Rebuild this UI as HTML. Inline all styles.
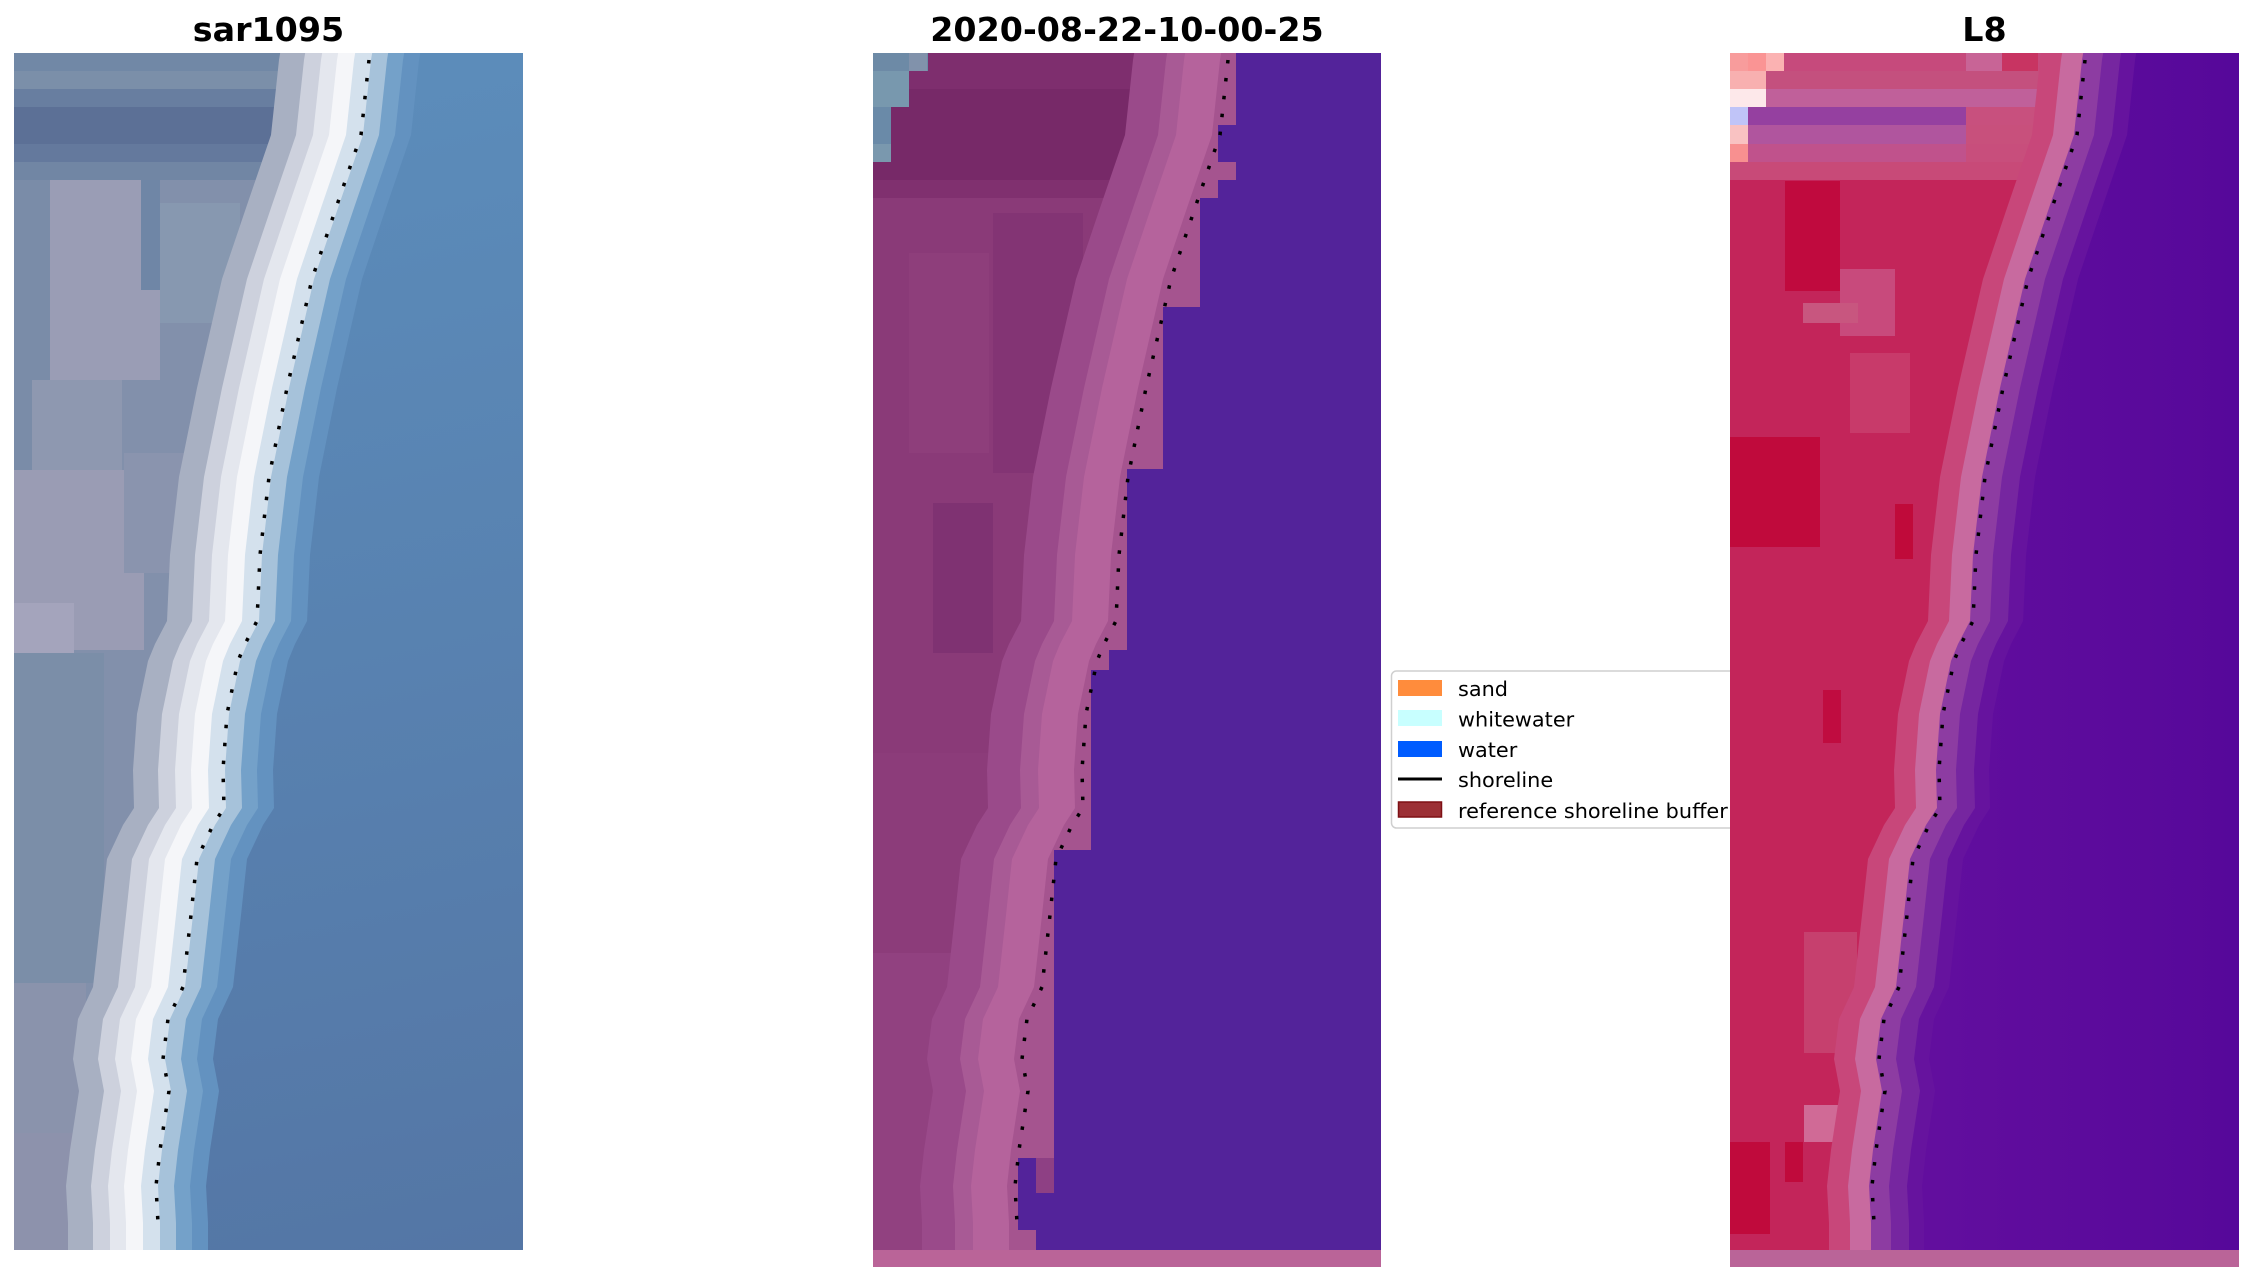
<!DOCTYPE html>
<html><head><meta charset="utf-8"><style>
html,body{margin:0;padding:0;background:#fff;}
svg{display:block;}
text{font-family:"DejaVu Sans","Liberation Sans",sans-serif;}
</style></head><body>
<svg width="2253" height="1283" viewBox="0 0 2253 1283" xmlns="http://www.w3.org/2000/svg">
<defs>
<path id="sh" d="M357,-5 L355,7 L347,82 L323,152 L298,226 L273,335 L255,424 L246,502 L243,568 L231,591 L224,608 L213,661 L209,717 L210,755 L199,772 L183,806 L177,862 L169,934 L154,966 L149,1006 L155,1038 L146,1097 L142,1133 L144,1170 L144,1230 L900,1230 L900,-5 Z"/>
<polyline id="dots" points="355,7 347,82 323,152 298,226 273,335 255,424 246,502 243,568 231,591 224,608 213,661 209,717 210,755 199,772 183,806 177,862 169,934 154,966 149,1006 155,1038 146,1097 142,1133 144,1170" fill="none" stroke="#000" stroke-width="3.5" stroke-dasharray="3.5 14.5"/>
<clipPath id="c1"><rect x="0" y="0" width="509" height="1197"/></clipPath>
<clipPath id="c2"><rect x="0" y="0" width="508" height="1214"/></clipPath>
<clipPath id="c3"><rect x="0" y="0" width="509" height="1214"/></clipPath>
<linearGradient id="w1" gradientUnits="userSpaceOnUse" x1="200" y1="0" x2="460" y2="1197"><stop offset="0" stop-color="#5c8dbb"/><stop offset="1" stop-color="#5476a5"/></linearGradient>
<linearGradient id="w3" gradientUnits="userSpaceOnUse" x1="150" y1="0" x2="460" y2="0"><stop offset="0" stop-color="#620e9e"/><stop offset="1" stop-color="#56089a"/></linearGradient>
</defs>
<rect width="2253" height="1283" fill="#fff"/>

<!-- Titles -->
<text x="268.5" y="41" font-size="33.3" font-weight="bold" text-anchor="middle">sar1095</text>
<text x="1127" y="41" font-size="33.3" font-weight="bold" text-anchor="middle">2020-08-22-10-00-25</text>
<text x="1984.5" y="41" font-size="33.3" font-weight="bold" text-anchor="middle">L8</text>

<!-- Panel 1 -->
<g transform="translate(14,53)" clip-path="url(#c1)">
<rect x="0" y="0" width="509" height="1197" fill="#8290ab"/>
<rect x="0" y="0" width="290" height="18" fill="#7188a6"/>
<rect x="0" y="18" width="290" height="18" fill="#7b8fa9"/>
<rect x="0" y="36" width="272" height="18" fill="#687ea0"/>
<rect x="0" y="54" width="272" height="37" fill="#5c7096"/>
<rect x="0" y="91" width="260" height="18" fill="#64799d"/>
<rect x="0" y="109" width="250" height="18" fill="#7186a4"/>
<rect x="0" y="127" width="36" height="330" fill="#7a8ca8"/>
<rect x="36" y="127" width="110" height="200" fill="#9a9db5"/>
<rect x="127" y="127" width="19" height="110" fill="#6f86a6"/>
<rect x="146" y="150" width="80" height="120" fill="#8798b0"/>
<rect x="18" y="327" width="90" height="90" fill="#8e98b0"/>
<rect x="0" y="417" width="130" height="180" fill="#9a9cb4"/>
<rect x="0" y="550" width="60" height="60" fill="#a4a4bc"/>
<rect x="110" y="400" width="60" height="120" fill="#8a94ae"/>
<rect x="0" y="600" width="90" height="330" fill="#7b8ea8"/>
<rect x="0" y="930" width="72" height="150" fill="#8a93ac"/>
<rect x="0" y="1080" width="90" height="117" fill="#8d92ac"/>
<use href="#sh" x="-90" fill="#a8b0c2"/>
<use href="#sh" x="-65" fill="#cdd1dd"/>
<use href="#sh" x="-48" fill="#e4e7ee"/>
<use href="#sh" x="-32" fill="#f5f6f9"/>
<use href="#sh" x="-15" fill="#d4e1ed"/>
<use href="#sh" x="2" fill="#a6c2da"/>
<use href="#sh" x="18" fill="#74a1c9"/>
<use href="#sh" x="34" fill="#6392c0"/>
<use href="#sh" x="50" fill="url(#w1)"/>
<use href="#dots"/>
</g>

<!-- Panel 2 -->
<g transform="translate(873,53)" clip-path="url(#c2)">
<rect x="0" y="0" width="508" height="1214" fill="#8a3a78"/>
<rect x="0" y="0" width="300" height="36" fill="#7e2e6e"/>
<rect x="0" y="36" width="290" height="91" fill="#772968"/>
<rect x="0" y="127" width="270" height="18" fill="#80306f"/>
<rect x="36" y="200" width="80" height="200" fill="#8e3e7b"/>
<rect x="120" y="160" width="90" height="260" fill="#833474"/>
<rect x="0" y="700" width="120" height="200" fill="#8c3c7a"/>
<rect x="60" y="450" width="60" height="150" fill="#7f3272"/>
<rect x="0" y="900" width="110" height="297" fill="#914180"/>
<rect x="0" y="0" width="55" height="18" fill="#6d8aa6"/>
<rect x="36" y="0" width="18" height="18" fill="#8192ab"/>
<rect x="0" y="18" width="36" height="36" fill="#7898ae"/>
<rect x="0" y="54" width="18" height="54" fill="#6a8aa8"/>
<rect x="0" y="91" width="18" height="18" fill="#7a98ae"/>
<use href="#sh" x="-95" fill="#9a4a8a"/>
<use href="#sh" x="-62" fill="#a85a95"/>
<use href="#sh" x="-44" fill="#b5639c"/>
<use href="#sh" x="-8" fill="#a5548f"/>
<path d="M520,0 L363,0 L363,72 L345,72 L345,109 L363,109 L363,127 L345,127 L345,145 L327,145 L327,254 L290,254 L290,416 L254,416 L254,597 L236,597 L236,617 L218,617 L218,797 L181,797 L181,1105 L145,1105 L145,1177 L163,1177 L163,1197 L520,1197 Z" fill="#53239a"/>
<rect x="163" y="1105" width="18" height="35" fill="#8e4084"/>
<use href="#dots"/>
<rect x="0" y="1197" width="508" height="17" fill="#ba6498"/>
</g>

<!-- Legend -->
<rect x="1391.5" y="671" width="355" height="157" rx="5" fill="#fff" stroke="#cfcfcf" stroke-width="1.5"/>
<rect x="1398" y="680" width="44" height="16" fill="#ff8c3c"/>
<rect x="1398" y="710" width="44" height="16" fill="#c8ffff"/>
<rect x="1398" y="741" width="44" height="16" fill="#005cff"/>
<line x1="1398" y1="779" x2="1442" y2="779" stroke="#000" stroke-width="3"/>
<rect x="1398.5" y="802" width="43" height="15" fill="#9c3035" stroke="#7e1015" stroke-width="1.5"/>
<text x="1458" y="696" font-size="20.8">sand</text>
<text x="1458" y="726.5" font-size="20.8">whitewater</text>
<text x="1458" y="757" font-size="20.8">water</text>
<text x="1458" y="787" font-size="20.8">shoreline</text>
<text x="1458" y="818" font-size="20.8">reference shoreline buffer</text>

<!-- Panel 3 -->
<g transform="translate(1730,53)" clip-path="url(#c3)">
<rect x="0" y="0" width="509" height="1214" fill="#c3255a"/>
<rect x="0" y="0" width="330" height="18" fill="#c64a7c"/>
<rect x="236" y="0" width="36" height="18" fill="#c86496"/>
<rect x="272" y="0" width="36" height="18" fill="#c83462"/>
<rect x="0" y="18" width="330" height="18" fill="#c4507e"/>
<rect x="0" y="36" width="330" height="18" fill="#c0609a"/>
<rect x="18" y="54" width="218" height="18" fill="#9540a0"/>
<rect x="236" y="54" width="90" height="18" fill="#c8507e"/>
<rect x="18" y="72" width="218" height="19" fill="#b0559e"/>
<rect x="236" y="72" width="90" height="19" fill="#c8507c"/>
<rect x="18" y="91" width="218" height="18" fill="#c0528c"/>
<rect x="236" y="91" width="90" height="18" fill="#c84e7c"/>
<rect x="0" y="109" width="320" height="18" fill="#c84a78"/>
<rect x="0" y="0" width="18" height="18" fill="#f89c9c"/>
<rect x="18" y="0" width="18" height="18" fill="#fa9494"/>
<rect x="36" y="0" width="18" height="18" fill="#fbb2b2"/>
<rect x="0" y="18" width="36" height="18" fill="#f8b0b0"/>
<rect x="0" y="36" width="36" height="18" fill="#fde8ea"/>
<rect x="0" y="54" width="18" height="18" fill="#c0c4f8"/>
<rect x="0" y="72" width="18" height="19" fill="#f9c2c2"/>
<rect x="0" y="91" width="18" height="18" fill="#f89090"/>
<rect x="55" y="128" width="55" height="110" fill="#c00a3e"/>
<rect x="110" y="216" width="55" height="67" fill="#c84a7c"/>
<rect x="73" y="250" width="55" height="20" fill="#c8567f"/>
<rect x="0" y="384" width="90" height="110" fill="#c00a3c"/>
<rect x="165" y="451" width="18" height="55" fill="#c00a3a"/>
<rect x="120" y="300" width="60" height="80" fill="#c83a6a"/>
<rect x="93" y="637" width="18" height="53" fill="#c00c40"/>
<rect x="74" y="879" width="53" height="121" fill="#c6406e"/>
<rect x="74" y="1052" width="36" height="37" fill="#d06a96"/>
<rect x="0" y="1089" width="40" height="92" fill="#c00a3c"/>
<rect x="55" y="1089" width="18" height="40" fill="#c00a3c"/>
<use href="#sh" x="-45" fill="#c8477a"/>
<use href="#sh" x="-24" fill="#c86a9f"/>
<use href="#sh" x="-3" fill="#8d3ca2"/>
<use href="#sh" x="17" fill="#7626a0"/>
<use href="#sh" x="35" fill="#66139e"/>
<use href="#sh" x="50" fill="url(#w3)"/>
<use href="#dots"/>
<rect x="0" y="1197" width="509" height="17" fill="#ba6498"/>
</g>
</svg>
</body></html>
